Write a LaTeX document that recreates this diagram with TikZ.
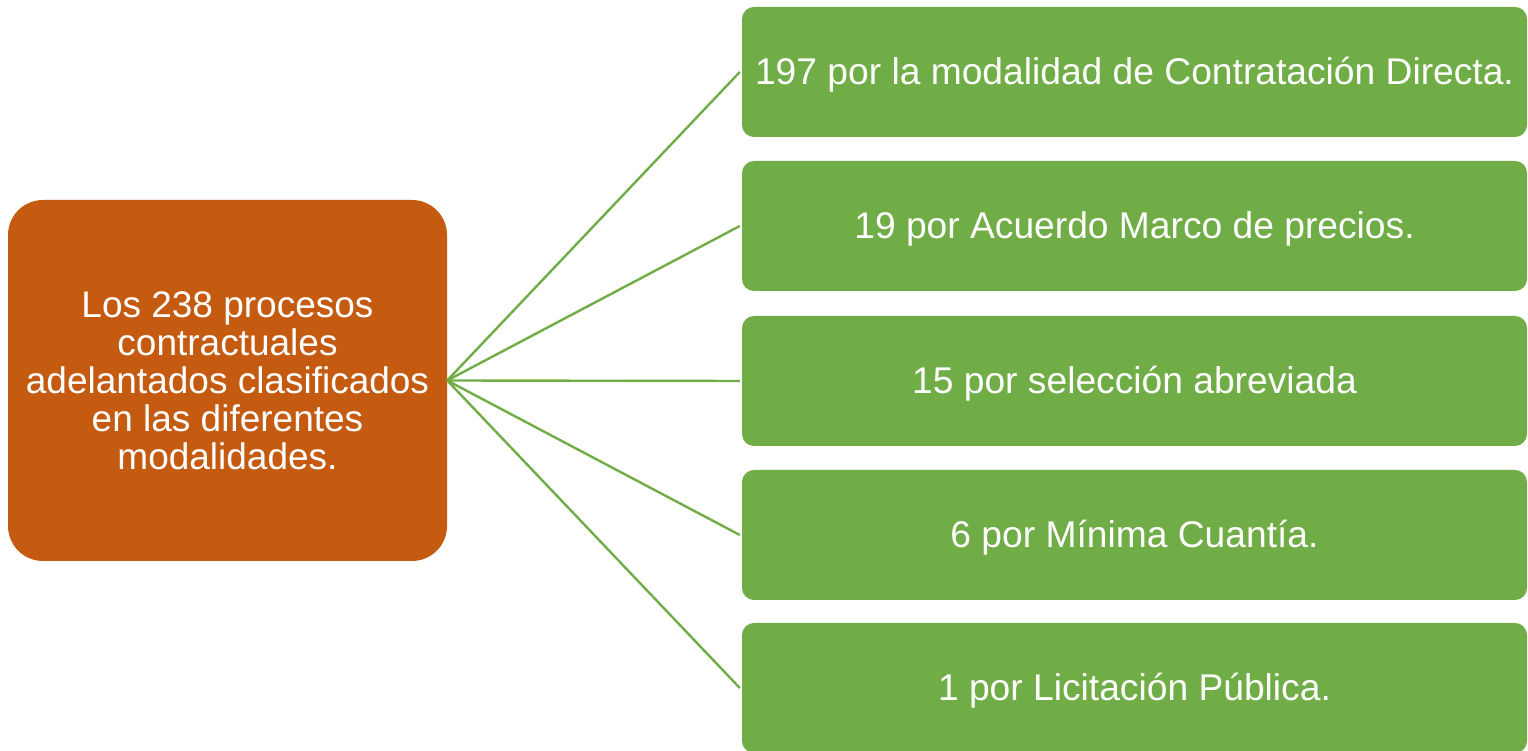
\documentclass[tikz,border=0pt]{standalone}
\usepackage{fontspec}
\setmainfont{Liberation Sans}
\usepackage{tikz}

\definecolor{modorange}{HTML}{C55A11}
\definecolor{modgreen}{HTML}{70AD47}

\begin{document}
\begin{tikzpicture}[x=1pt, y=1pt,
	mainbox/.style={fill=modorange, rounded corners=35pt, minimum width=439pt, minimum height=361pt, inner sep=0pt, text=white, align=center, font=\fontsize{37}{38}\selectfont},
	modbox/.style={fill=modgreen, rounded corners=12pt, minimum width=785pt, minimum height=130pt, inner sep=0pt, text height=26pt, text depth=0pt, text=white, font=\fontsize{37.2}{42}\selectfont},
	link/.style={draw=modgreen, line width=2.4pt}]
	\useasboundingbox (0,0) rectangle (1528,751);
	\node[mainbox] (main) at (227.5,370.5) {Los 238 procesos\\ contractuales\\ adelantados clasificados\\ en las diferentes\\ modalidades.};
	\node[modbox] (mod1) at (1134.5,679) {197 por la modalidad de Contratación Directa.};
	\node[modbox] (mod2) at (1134.5,525) {19 por Acuerdo Marco de precios.};
	\node[modbox] (mod3) at (1134.5,370) {15 por selección abreviada};
	\node[modbox] (mod4) at (1134.5,216) {6 por Mínima Cuantía.};
	\node[modbox] (mod5) at (1134.5,63) {1 por Licitación Pública.};
	\foreach \i in {1,...,5}
		\draw[link] (main.east) -- ([xshift=-2pt]mod\i.west);
\end{tikzpicture}
\end{document}
